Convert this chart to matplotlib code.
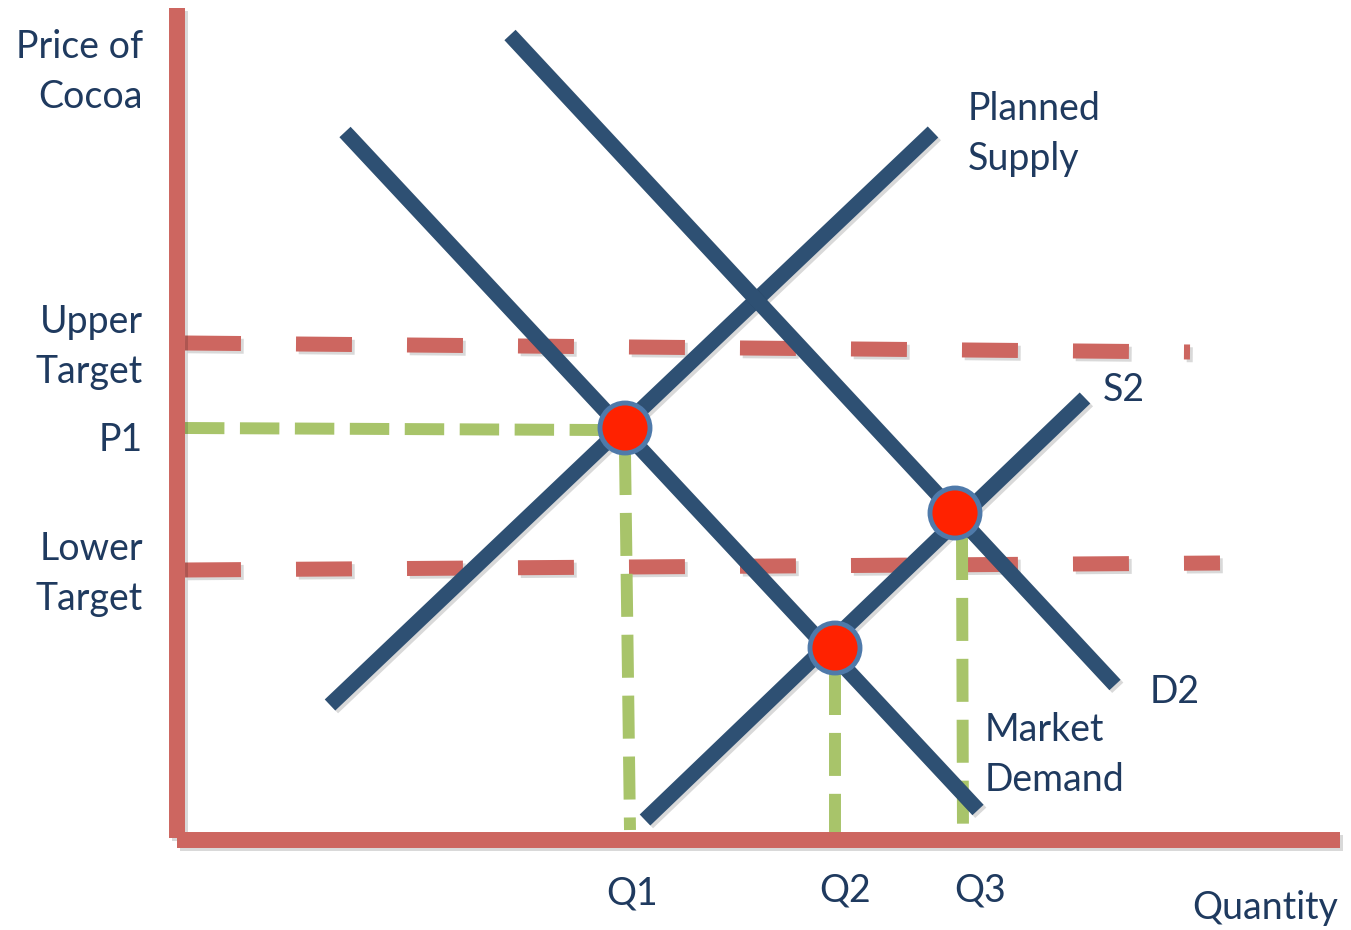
import matplotlib
matplotlib.use("Agg")
import matplotlib.pyplot as plt
import matplotlib.patheffects as pe
from matplotlib.patches import Circle

# diagram coordinates (pixel space of the original drawing)
axis_y = [(177, 8), (177, 838)]
axis_x = [(177, 840), (1340, 840)]

planned_supply = [(330, 705), (933, 132)]
s2 = [(645, 820), (1085, 398)]
market_demand = [(345, 132), (978, 810)]
d2 = [(510, 35), (1115, 685)]

upper_target = [(185, 343), (1190, 352)]
lower_target = [(185, 570), (1220, 563)]

p1_line = [(185, 428), (600, 430)]
q1_line = [(625, 452), (630, 830)]
q2_line = [(835, 672), (835, 835)]
q3_line = [(962, 537), (963, 835)]

equilibria = [(625, 428), (835, 648), (955, 513)]

left_labels = ["Price of\nCocoa", "Upper\nTarget", "P1", "Lower\nTarget"]
left_label_y = [72, 347, 440, 574]
curve_labels = ["Planned\nSupply", "S2", "D2", "Market\nDemand"]
curve_label_pos = [(968, 134), (1103, 390), (1150, 692), (985, 755)]
q_labels = ["Q1", "Q2", "Q3"]
q_label_pos = [(632, 893), (845, 890), (980, 890)]

navy = "#2E5073"
axis_red = "#CD6660"
green = "#A8C46A"
text_col = "#1F3A5F"
shadow = [pe.SimpleLineShadow(offset=(2, -2), alpha=0.15), pe.Normal()]

fig = plt.figure(figsize=(13.51, 9.30), dpi=100)
ax = fig.add_axes([0, 0, 1, 1])
ax.set_xlim(0, 1351)
ax.set_ylim(930, 0)
ax.axis("off")


def seg(pts, **kw):
    xs = [p[0] for p in pts]
    ys = [p[1] for p in pts]
    ax.plot(xs, ys, **kw)


# dashed guides
for line in [upper_target, lower_target]:
    seg(line, color=axis_red, lw=10.8, linestyle=(0, (3.73, 3.67)),
        dash_capstyle="butt", path_effects=shadow, zorder=2)
seg(p1_line, color=green, lw=8.6, linestyle=(0, (3.3, 1.3)),
    dash_capstyle="butt", zorder=2)
for line in [q1_line, q2_line, q3_line]:
    seg(line, color=green, lw=8.6, linestyle=(0, (3.6, 1.5)),
        dash_capstyle="butt", zorder=2)

# curves
for line in [planned_supply, s2, market_demand, d2]:
    seg(line, color=navy, lw=11, solid_capstyle="butt",
        path_effects=shadow, zorder=3)

# axes
for line in [axis_y, axis_x]:
    seg(line, color=axis_red, lw=11.5, solid_capstyle="butt",
        path_effects=shadow, zorder=4)

for (x, y) in equilibria:
    ax.add_patch(Circle((x, y), 25, facecolor="#FF2200", edgecolor="#4F7AAA",
                        lw=3.5, zorder=5))

font = dict(family=["Lato", "DejaVu Sans"], fontsize=27, color=text_col)
for t, y in zip(left_labels, left_label_y):
    ax.text(143, y, t, ha="right", va="center", linespacing=1.5, **font)
for t, (x, y) in zip(curve_labels, curve_label_pos):
    ax.text(x, y, t, ha="left", va="center", linespacing=1.5, **font)
for t, (x, y) in zip(q_labels, q_label_pos):
    ax.text(x, y, t, ha="center", va="center", **font)
ax.text(1338, 908, "Quantity", ha="right", va="center", **font)

fig.savefig("out.png", dpi=100)
